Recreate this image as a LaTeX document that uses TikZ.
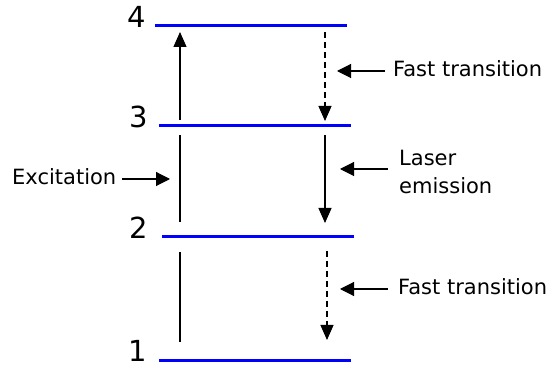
\documentclass[tikz,border=0pt]{standalone}
\usepackage{fontspec}
\setmainfont{DejaVu Sans}
\usetikzlibrary{arrows.meta}
\begin{document}
\begin{tikzpicture}[x=1pt,y=-1pt,
  level/.style={draw=blue, line width=3pt},
  arr/.style={line width=1.1pt, -{Triangle[length=15pt,width=13pt]}},
  seg/.style={line width=1.1pt},
  ptr/.style={line width=1.1pt, -{Triangle[length=14pt,width=14pt]}},
  dsh/.style={dash pattern=on 6pt off 4pt},
  lbl/.style={font=\fontsize{21}{25}\selectfont, inner sep=0pt},
  num/.style={font=\fontsize{29}{34}\selectfont, inner sep=0pt}]
\useasboundingbox (0,0) rectangle (550,366);
% energy levels
\coordinate (L4a) at (155,26);  \coordinate (L4b) at (347,26);
\coordinate (L3a) at (159,126); \coordinate (L3b) at (351,126);
\coordinate (L2a) at (162,237); \coordinate (L2b) at (354,237);
\coordinate (L1a) at (159,361); \coordinate (L1b) at (351,361);
\draw[level] (L4a) -- (L4b);
\draw[level] (L3a) -- (L3b);
\draw[level] (L2a) -- (L2b);
\draw[level] (L1a) -- (L1b);
% level numbers
\node[num, anchor=base east] (n4) at (146,28) {4};
\node[num, anchor=base east] (n3) at (148,128) {3};
\node[num, anchor=base east] (n2) at (148,239) {2};
\node[num, anchor=base east] (n1) at (147,362) {1};
% excitation arrow (interrupted at levels)
\coordinate (e1) at (180,342); \coordinate (e2) at (180,252);
\coordinate (e3) at (180,222); \coordinate (e4) at (180,135);
\coordinate (e5) at (180,120); \coordinate (e6) at (180,32);
\draw[seg] (e1) -- (e2);
\draw[seg] (e3) -- (e4);
\draw[arr] (e5) -- (e6);
% right-hand transitions
\coordinate (f1) at (325,32);  \coordinate (f2) at (325,121);
\coordinate (g1) at (325,135); \coordinate (g2) at (325,223);
\coordinate (h1) at (327,251); \coordinate (h2) at (327,340);
\draw[arr, dsh] (f1) -- (f2);
\draw[arr] (g1) -- (g2);
\draw[arr, dsh] (h1) -- (h2);
% labels
\node[lbl, anchor=base west] (exc) at (12,185) {Excitation};
\coordinate (ep1) at (122,179); \coordinate (ep2) at (170,179);
\draw[ptr] (ep1) -- (ep2);
\node[lbl, anchor=base west] (ft1) at (393,77) {Fast transition};
\coordinate (fp1) at (385,71); \coordinate (fp2) at (337,71);
\draw[ptr] (fp1) -- (fp2);
\node[lbl, anchor=base west] (la) at (399,166) {Laser};
\node[lbl, anchor=base west] (em) at (399,194) {emission};
\coordinate (lp1) at (388,169); \coordinate (lp2) at (340,169);
\draw[ptr] (lp1) -- (lp2);
\node[lbl, anchor=base west] (ft2) at (398,295) {Fast transition};
\coordinate (hp1) at (388,289); \coordinate (hp2) at (340,289);
\draw[ptr] (hp1) -- (hp2);
\end{tikzpicture}
\end{document}
